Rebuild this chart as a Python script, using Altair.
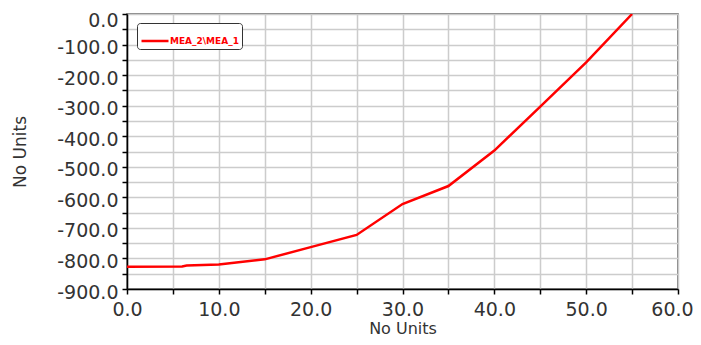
import altair as alt
import pandas as pd

# data
x_vals = [0, 6.0, 6.5, 10, 15, 20, 25, 30, 35, 40, 45, 50, 55]
y_vals = [-827, -826, -823, -820, -803, -763, -723, -622, -563, -447, -303, -158, 0]
series_name = "MEA_2\\MEA_1"

x_ticks = list(range(0, 61, 5))
y_ticks = list(range(-900, 1, 50))

df = pd.DataFrame({"x": x_vals, "y": y_vals, "series": [series_name] * len(x_vals)})

FONT = "DejaVu Sans"

chart = alt.Chart(df).mark_line(strokeWidth=2.5, clip=True).encode(
    x=alt.X("x:Q",
            scale=alt.Scale(domain=[0, 60], nice=False, zero=False),
            axis=alt.Axis(values=x_ticks,
                          labelExpr="datum.value % 10 == 0 ? datum.value + '.0' : ''",
                          title="No Units", labelFlush=False, labelOverlap=False,
                          labelOffset={"condition": {"test": "datum.value == 60", "value": -6},
                                       "value": 0},
                          titleFontSize=16,
                          tickSize=5, labelPadding=6, titlePadding=1)),
    y=alt.Y("y:Q",
            scale=alt.Scale(domain=[-900, 0], nice=False, zero=False),
            axis=alt.Axis(values=y_ticks,
                          labelExpr="datum.value % 100 == 0 ? datum.value + '.0' : ''",
                          title="No Units", labelOverlap=False, labelFlush=False,
                          labelOffset={"condition": {"test": "datum.value == 0", "value": 6},
                                       "value": 3},
                          tickSize=5, labelPadding=4, titlePadding=27)),
    color=alt.Color("series:N",
                    scale=alt.Scale(domain=[series_name], range=["#ff0000"]),
                    legend=alt.Legend(title=None, orient="none", legendX=10, legendY=9,
                                      symbolType="stroke", symbolSize=729,
                                      symbolStrokeWidth=2.5,
                                      strokeColor="#333333", cornerRadius=3,
                                      padding=3, fillColor="white",
                                      labelFont=FONT, labelFontSize=9,
                                      labelFontWeight="bold", labelColor="#ff0000",
                                      labelOffset=0)),
).properties(
    width=551, height=275,
    autosize=alt.AutoSizeParams(type="none"),
    padding={"left": 119, "top": 6, "right": 15, "bottom": 48},
).configure_view(
    stroke="#555555", strokeWidth=1.5
).configure_axis(
    labelFont=FONT, labelFontSize=19, labelColor="#333333",
    titleFont=FONT, titleFontSize=17, titleFontWeight="normal", titleColor="#333333",
    gridColor="#cccccc", gridWidth=1.5,
    domainColor="#000000", domainWidth=1.5,
    tickColor="#000000", tickWidth=1.5,
)

chart.save("out.html", embed_options={"renderer": "svg", "actions": False})
